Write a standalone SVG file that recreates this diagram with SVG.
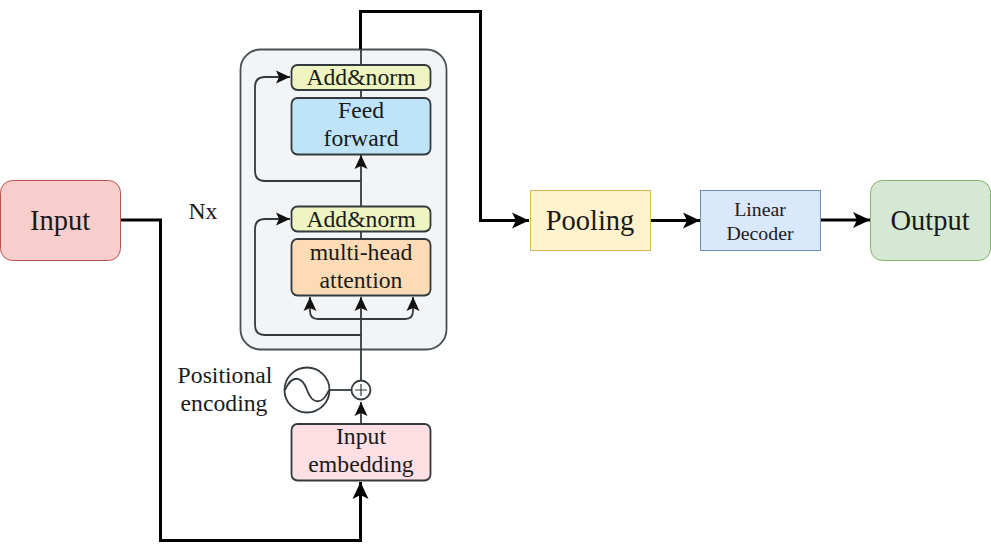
<svg xmlns="http://www.w3.org/2000/svg" width="991" height="552" viewBox="0 0 991 552">
<style>
text{font-family:"Liberation Serif","Times New Roman",serif;fill:#1a1a1a;text-anchor:middle}
.big{font-size:28.500px}
.mid{font-size:23.700px}
.sm{font-size:19.800px}
.blk{stroke:#333a3f;stroke-width:1.800}
.thick{fill:none;stroke:#000;stroke-width:3}
.thin{fill:none;stroke:#333a3f;stroke-width:1.800}
</style>
<defs>
<marker id="a" markerUnits="userSpaceOnUse" markerWidth="20" markerHeight="20" refX="17" refY="10" orient="auto"><path d="M0 2L17 10L0 18L4 10Z" fill="#000"/></marker>
<marker id="t" markerUnits="userSpaceOnUse" markerWidth="16" markerHeight="16" refX="14" refY="8" orient="auto"><path d="M0 1.500L14 8L0 14.500L3 8Z" fill="#111"/></marker>
</defs>
<g id="nx-container"><rect x="240.500" y="49.500" width="206" height="300" rx="20" fill="#f3f4f6" stroke="#4a4f53" stroke-width="1.800"/></g>
<g id="connectors">
<path class="thick" d="M121 220H160.500V540.500H360.500V482" marker-end="url(#a)"/>
<path class="thick" d="M360.500 49V11.500H480.500V220.500H529" marker-end="url(#a)"/>
<path class="thick" d="M651 220.500H700" marker-end="url(#a)"/>
<path class="thick" d="M821 220H870" marker-end="url(#a)"/>
<path class="thin" d="M361 49V65M361 90V98"/>
<path class="thin" d="M361 206V155" marker-end="url(#t)"/>
<path class="thin" d="M361 181H265Q255 181 255 171V87Q255 77 265 77H290" marker-end="url(#t)"/>
<path class="thin" d="M361 232V239"/>
<path class="thin" d="M361 380V297" marker-end="url(#t)"/>
<path class="thin" d="M361 335H265Q255 335 255 325V229Q255 219 265 219H290" marker-end="url(#t)"/>
<path class="thin" d="M361 319H318Q310 319 310 311V297" marker-end="url(#t)"/>
<path class="thin" d="M361 319H405Q413 319 413 311V297" marker-end="url(#t)"/>
<path class="thin" d="M361 424V402" marker-end="url(#t)"/>
<path class="thin" d="M330 390H351"/>
</g>
<g id="input"><rect x="0.500" y="180.500" width="120" height="80" rx="12" fill="#f8cecc" stroke="#b85450"/><text class="big" x="60" y="230">Input</text></g>
<g id="pooling"><rect x="530.500" y="190.500" width="120" height="60" fill="#fff2cc" stroke="#d6b656"/><text class="big" x="590" y="230">Pooling</text></g>
<g id="linear-decoder"><rect x="700.500" y="190.500" width="120" height="60" fill="#dae8fc" stroke="#6c8ebf"/><text class="sm" x="760" y="216">Linear</text><text class="sm" x="760" y="240">Decoder</text></g>
<g id="output"><rect x="870.500" y="180.500" width="120" height="80" rx="12" fill="#d5e8d4" stroke="#82b366"/><text class="big" x="930" y="230">Output</text></g>
<g id="add-norm-top"><rect x="291.500" y="65" width="139" height="25" rx="6" fill="#eef5c0" class="blk"/><text class="mid" x="361" y="85">Add&amp;norm</text></g>
<g id="feed-forward"><rect x="291.500" y="98" width="139" height="56.500" rx="6" fill="#bfe4f8" class="blk"/><text class="mid" x="361" y="118">Feed</text><text class="mid" x="361" y="146">forward</text></g>
<g id="add-norm-bottom"><rect x="291.500" y="206.500" width="139" height="25" rx="6" fill="#eef5c0" class="blk"/><text class="mid" x="361" y="227">Add&amp;norm</text></g>
<g id="multi-head-attention"><rect x="291.500" y="239" width="139" height="56.500" rx="6" fill="#fddcb5" class="blk"/><text class="mid" x="361" y="260">multi-head</text><text class="mid" x="361" y="288">attention</text></g>
<g id="input-embedding"><rect x="291.500" y="424" width="139" height="56.500" rx="6" fill="#fddfe4" class="blk"/><text class="mid" x="361" y="444">Input</text><text class="mid" x="361" y="472">embedding</text></g>
<g id="nx-label"><text class="mid" x="203" y="219">Nx</text></g>
<g id="positional-label"><text class="mid" x="225" y="383">Positional</text><text class="mid" x="224" y="411">encoding</text></g>
<g id="sine-wave"><circle cx="307" cy="390" r="22.500" fill="none" stroke="#333a3f" stroke-width="1.800"/><path class="thin" d="M285 390C292 374 302 376 307 390C312 404 322 406 329 390"/></g>
<g id="add-symbol"><circle cx="361" cy="390" r="9.500" fill="#fff" stroke="#333a3f" stroke-width="1.800"/><path fill="none" stroke="#333a3f" stroke-width="1.200" d="M355 390H367M361 384V396"/></g>
</svg>
